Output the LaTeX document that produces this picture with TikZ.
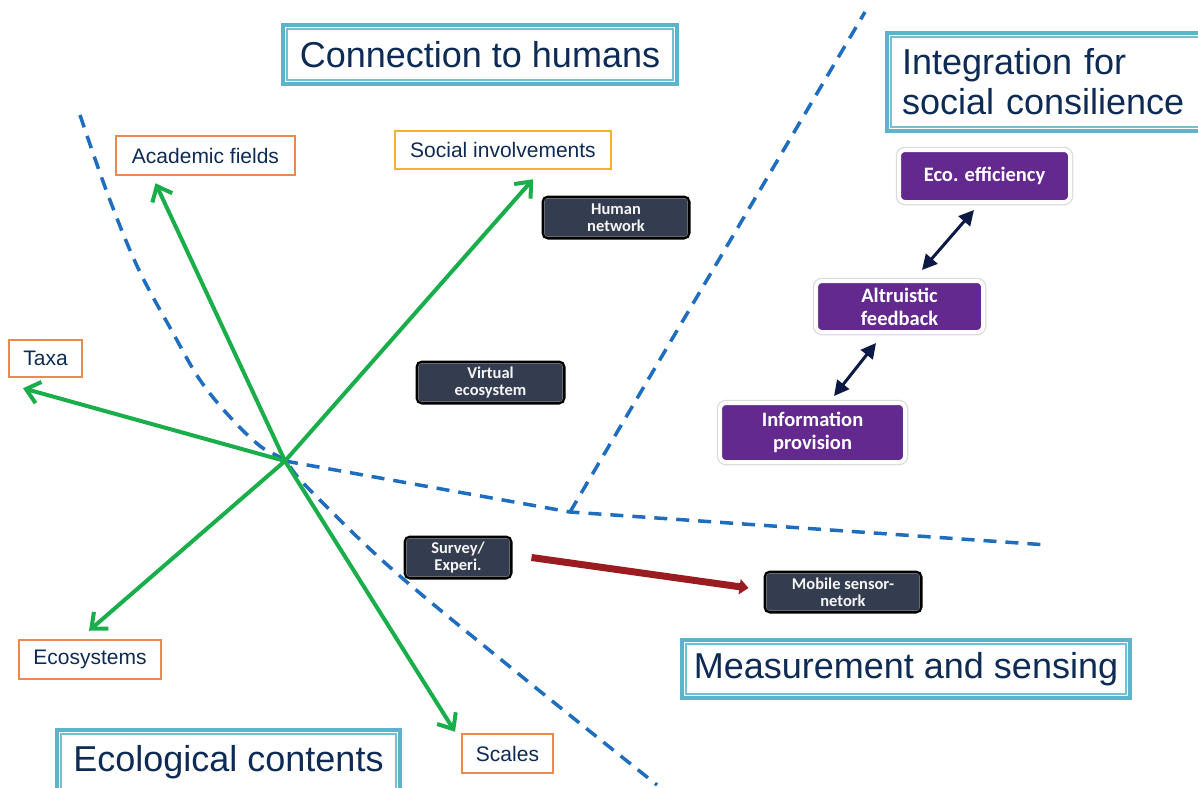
\documentclass[tikz,border=0pt]{standalone}
\usepackage{fontspec}
\setmainfont{Liberation Sans}
\newfontfamily\boxfont{Carlito}
\usetikzlibrary{arrows.meta}
\definecolor{titleblue}{HTML}{5AB4CC}
\definecolor{textnavy}{HTML}{0D2B55}
\definecolor{lborange}{HTML}{EB8A4E}
\definecolor{lbyellow}{HTML}{F2B134}
\definecolor{arrowgreen}{HTML}{1AAE4B}
\definecolor{dashblue}{HTML}{1E6DBF}
\definecolor{darkfill}{HTML}{343C50}
\definecolor{boxpurple}{HTML}{64298F}
\definecolor{navyarrow}{HTML}{0B1A45}
\definecolor{redarrow}{HTML}{9A1C20}
\tikzset{
  titlebox/.style={draw=titleblue, line width=4pt, fill=white, inner sep=0pt,
    font=\fontsize{36}{40}\selectfont, text=textnavy},
  innerline/.style={draw=titleblue!85, line width=1.3pt},
  labelbox/.style={draw=lborange, line width=2.5pt, fill=white, inner sep=0pt,
    font=\fontsize{21}{24}\selectfont, text=textnavy},
  darkbox/.style={draw=black, line width=3pt, fill=darkfill, rounded corners=5pt,
    inner sep=0pt, align=center, text=white!92!gray,
    font=\boxfont\bfseries\fontsize{16.5}{17}\selectfont},
  darkinner/.style={draw=gray!70!darkfill, line width=0.8pt, rounded corners=3pt},
  purplebox/.style={draw=white, line width=4pt, fill=boxpurple, rounded corners=6pt,
    preaction={draw=black!14, line width=6.5pt},
    inner sep=0pt, align=center, text=white,
    font=\boxfont\bfseries\fontsize{20.5}{23}\selectfont},
  greenarrow/.style={draw=arrowgreen, line width=4pt, -{Straight Barb[length=13pt,width=22pt]}},
  navyboth/.style={draw=navyarrow, line width=3pt,
    {Triangle[length=15pt,width=15pt]}-{Triangle[length=15pt,width=15pt]}},
  redline/.style={draw=redarrow, line width=7pt, -{Triangle[length=9pt,width=15pt]}},
  dashline/.style={draw=dashblue, line width=3.5pt, dash pattern=on 13pt off 9pt}
}
\begin{document}
\begin{tikzpicture}[x=1pt,y=-1pt]
\useasboundingbox (0,0) rectangle (1198,787);
\fill[white] (0,0) rectangle (1198,787);

% dashed separators
\coordinate (c) at (285,461);
\coordinate (dtop) at (80,115);
\coordinate (dbot) at (657,785);
\coordinate (dmid) at (570,512);
\coordinate (dright) at (1048,545);
\coordinate (dup) at (865,12);
\draw[dashline] plot[smooth, tension=0.6] coordinates {(dtop) (108,195) (138,268) (173,333) (200,380) (230,417) (260,446) (c) (307,487) (393,570) (520,675) (dbot)};
\draw[dashline] (c) -- (dmid) -- (dright);
\draw[dashline] (dmid) -- (dup);

% title boxes
\node[titlebox, minimum width=394pt, minimum height=59pt] (conn) at (480,54.5) {Connection to humans};
\node[titlebox, minimum width=328pt, minimum height=98pt, text width=298pt, inner xsep=15pt, align=left] (integ) at (1051,82) {Integration for\\social consilience};
\node[titlebox, minimum width=343pt, minimum height=64pt] (eco) at (228.5,762) {Ecological contents};
\node[titlebox, minimum width=448pt, minimum height=58pt] (meas) at (906,669) {Measurement and sensing};
\foreach \n in {conn,integ,eco,meas}
  \draw[innerline] ([shift={(6pt,-6pt)}]\n.north west) rectangle ([shift={(-6pt,6pt)}]\n.south east);

% label boxes
\node[labelbox, minimum width=179pt, minimum height=39pt] (acad) at (205.5,155.5) {Academic fields};
\node[labelbox, draw=lbyellow, minimum width=216pt, minimum height=38pt] (social) at (503,150) {Social involvements};
\node[labelbox, minimum width=73pt, minimum height=37pt] (taxa) at (45.5,358.5) {Taxa};
\node[labelbox, minimum width=142pt, minimum height=39pt] (ecosys) at (90,659.5) {Ecosystems};
\node[labelbox, minimum width=91pt, minimum height=39pt] (scales) at (507.5,753.5) {Scales};

% dark boxes
\node[darkbox, minimum width=146pt, minimum height=41pt] (human) at (616,217.5) {Human\\network};
\node[darkbox, minimum width=147pt, minimum height=41pt] (virtual) at (490.5,382.5) {Virtual\\ecosystem};
\node[darkbox, minimum width=106pt, minimum height=41pt] (survey) at (458,557.5) {Survey/\\Experi.};
\node[darkbox, minimum width=156pt, minimum height=40pt] (mobile) at (843,592) {Mobile sensor-\\netork};
\foreach \n in {human,virtual,survey,mobile}
  \draw[darkinner] ([shift={(3pt,-3pt)}]\n.north west) rectangle ([shift={(-3pt,3pt)}]\n.south east);

% purple boxes
\node[purplebox, minimum width=171pt, minimum height=52pt] (ecoeff) at (984.5,176) {Eco. efficiency};
\node[purplebox, minimum width=167pt, minimum height=51pt] (altru) at (899.5,306.5) {Altruistic\\feedback};
\node[purplebox, minimum width=185pt, minimum height=59pt] (info) at (812.5,432.5) {Information\\provision};

% connectors
\draw[navyboth] ([xshift=22.5pt,yshift=9pt]altru.north) -- ([xshift=-10.5pt,yshift=-6pt]ecoeff.south);
\draw[navyboth] ([xshift=21.5pt,yshift=5pt]info.north) -- ([xshift=-23.5pt,yshift=-9pt]altru.south);
\draw[redline] ([xshift=19pt]survey.east) -- ([xshift=-15pt,yshift=4pt]mobile.west);

\draw[greenarrow] (c) -- ([xshift=-50pt,yshift=-7pt]acad.south);
\draw[greenarrow] (c) -- ([xshift=30pt,yshift=-9pt]social.south);
\draw[greenarrow] (c) -- ([xshift=-22.5pt,yshift=-10pt]taxa.south);
\draw[greenarrow] (c) -- ([xshift=-1pt,yshift=8pt]ecosys.north);
\draw[greenarrow] (c) -- ([xshift=-52.5pt,yshift=1pt]scales.north);
\end{tikzpicture}
\end{document}
